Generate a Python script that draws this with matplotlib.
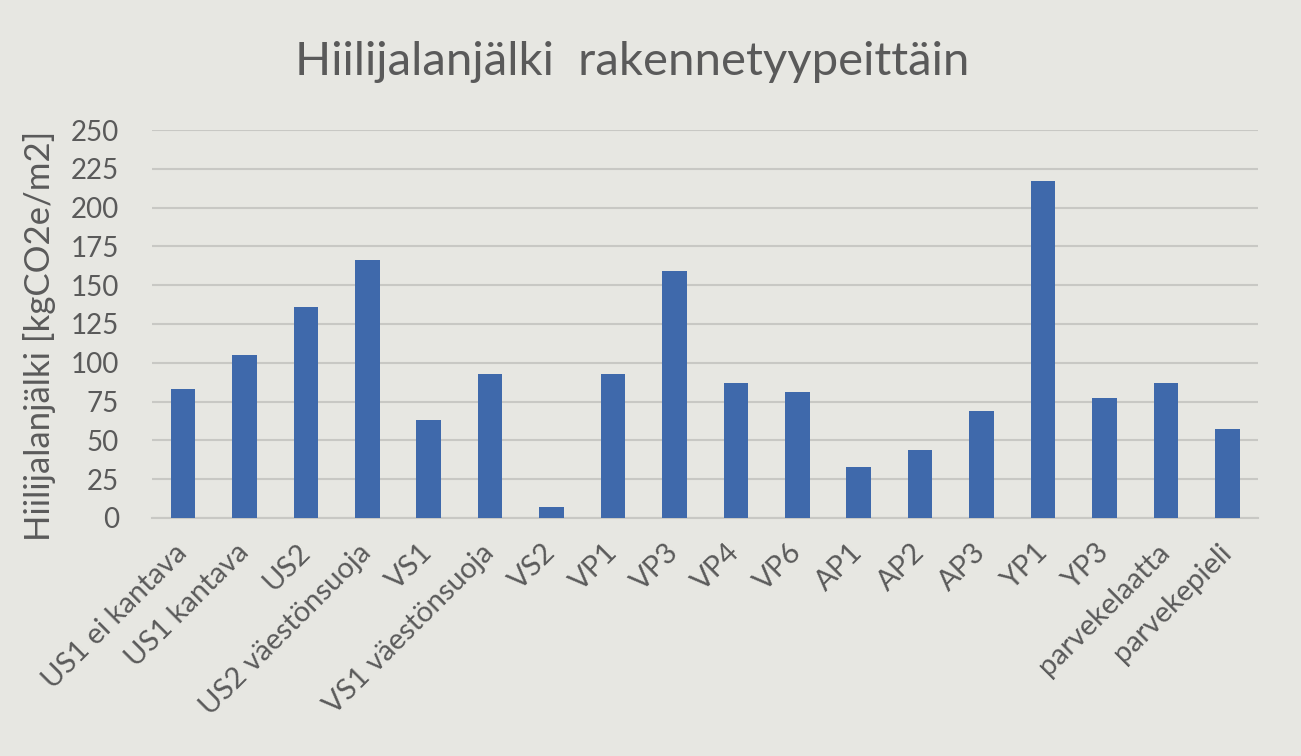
import numpy as np
import matplotlib.pyplot as plt

categories = ['US1 ei kantava', 'US1 kantava', 'US2', 'US2 väestönsuoja', 'VS1',
              'VS1 väestönsuoja', 'VS2', 'VP1', 'VP3', 'VP4', 'VP6', 'AP1', 'AP2',
              'AP3', 'YP1', 'YP3', 'parvekelaatta', 'parvekepieli']
values = [83, 105, 136, 166, 63, 93, 7, 93, 159, 87, 81, 33, 44, 69, 217, 77, 87, 57]
yticks = list(range(0, 251, 25))

bg = '#e7e7e2'
bar_color = '#3f69ab'
text_color = '#5a5a5a'

plt.rcParams['font.family'] = ['Lato', 'DejaVu Sans']

fig = plt.figure(figsize=(13.01, 7.56), dpi=100, facecolor=bg)
ax = fig.add_axes([0.117, 0.315, 0.850, 0.513], facecolor=bg)

x = np.arange(len(categories))
ax.bar(x, values, width=0.4, color=bar_color, zorder=3)

ax.set_xlim(-0.5, len(categories) - 0.5)
ax.set_ylim(0, 250)
ax.set_yticks(yticks)
ax.set_yticklabels([str(t) for t in yticks], fontsize=20, color=text_color)
ax.set_xticks(x)
ax.set_xticklabels(categories, rotation=45, ha='right', va='center',
                   rotation_mode='anchor', fontsize=21, color=text_color)
ax.tick_params(axis='both', length=0)
ax.tick_params(axis='y', pad=24)
ax.tick_params(axis='x', pad=22)

ax.grid(axis='y', color='#c8c8c4', linewidth=1.5, zorder=0)
for s in ['top', 'right', 'left']:
    ax.spines[s].set_visible(False)
ax.spines['bottom'].set_color('#c8c8c4')
ax.spines['bottom'].set_linewidth(1.5)

ax.set_ylabel('Hiilijalanjälki [kgCO2e/m2]', fontsize=25, color=text_color)
ax.yaxis.set_label_coords(-0.087, 0.469)

fig.text(0.486, 0.918, 'Hiilijalanjälki  rakennetyypeittäin', ha='center', va='center',
         fontsize=34, color=text_color)

fig.savefig('out.png', dpi=100, facecolor=bg)
